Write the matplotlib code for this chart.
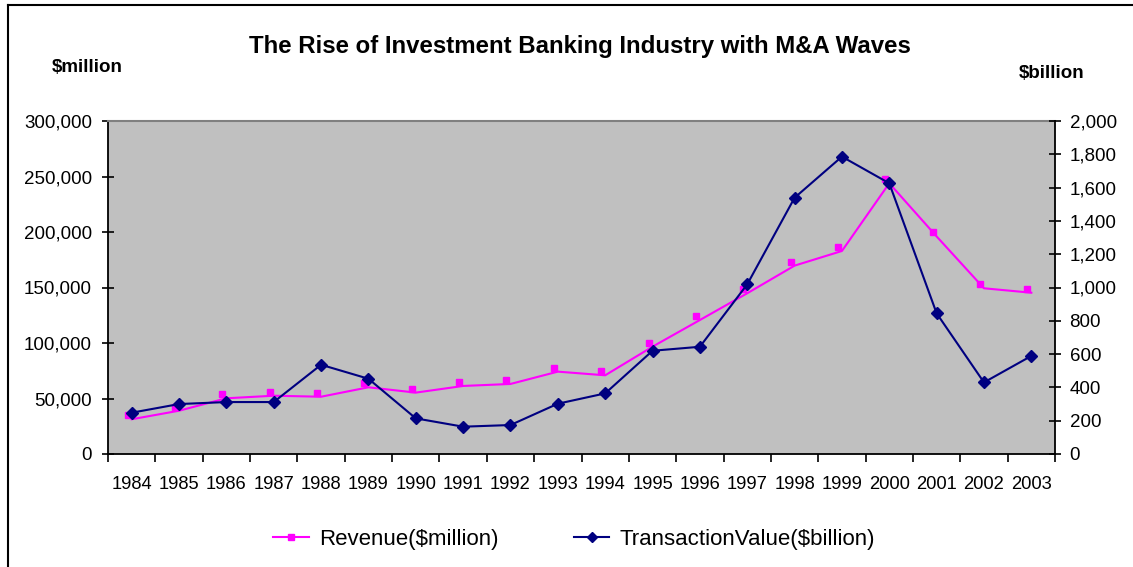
import numpy as np
import matplotlib
matplotlib.use('Agg')
import matplotlib.pyplot as plt
import matplotlib.transforms as mtransforms
from matplotlib import font_manager
from matplotlib.lines import Line2D
from matplotlib.ticker import FuncFormatter, FixedLocator

plt.rcParams['font.family'] = ['Liberation Sans', 'DejaVu Sans']

# data
years = ['1984', '1985', '1986', '1987', '1988', '1989', '1990', '1991', '1992', '1993',
         '1994', '1995', '1996', '1997', '1998', '1999', '2000', '2001', '2002', '2003']
revenue_musd = [31300, 39000, 50200, 52500, 51600, 60100, 55300, 61300, 63100, 74200,
                70900, 96700, 120700, 144800, 169700, 182900, 243900, 196000, 149300, 145300]
transaction_busd = [248, 300, 312, 312, 536, 452, 214, 164, 174, 302,
                    364, 620, 644, 1019, 1539, 1786, 1626, 845, 430, 589]

NAVY = '#000080'
MAGENTA = '#FF00FF'

# the headings in the original are a condensed bold face
installed = {f.name for f in font_manager.fontManager.ttflist}
if 'Liberation Sans Narrow' in installed:
    head_family, title_size, unit_size = 'Liberation Sans Narrow', 21, 16
else:
    head_family, title_size, unit_size = 'Liberation Sans', 17.3, 13.5

fig = plt.figure(figsize=(11.33, 5.67), dpi=100)
ax = fig.add_axes([108 / 1133, 1 - 454 / 567, (1055 - 108) / 1133, (454 - 121) / 567])
ax2 = ax.twinx()

x = np.arange(len(years))

# revenue: line, with the square markers sitting slightly off the line like the original
ax.plot(x, revenue_musd, color=MAGENTA, lw=1.5, zorder=2)
shifted = mtransforms.offset_copy(ax.transData, fig=fig, x=-4, y=4, units='dots')
ax.plot(x, revenue_musd, ls='none', marker='s', ms=4.5, color=MAGENTA,
        transform=shifted, zorder=3)

ax2.plot(x, transaction_busd, color=NAVY, lw=1.5, marker='D', ms=6.5, zorder=3)

ax.set_facecolor('#C0C0C0')
ax2.patch.set_visible(False)

ax.set_xlim(-0.5, len(years) - 0.5)
ax.set_ylim(0, 300000)
ax2.set_ylim(0, 2000)

ax.set_yticks(np.arange(0, 300001, 50000))
ax2.set_yticks(np.arange(0, 2001, 200))
ax.yaxis.set_major_formatter(FuncFormatter(lambda v, p: f'{v:,.0f}'))
ax2.yaxis.set_major_formatter(FuncFormatter(lambda v, p: f'{v:,.0f}'))

# x ticks sit between categories, labels on the categories
ax.xaxis.set_major_locator(FixedLocator(np.arange(-0.5, len(years), 1.0)))
ax.xaxis.set_major_formatter(FuncFormatter(lambda v, p: ''))
ax.set_xticks(x, minor=True)
ax.set_xticklabels(years, minor=True)
ax.tick_params(axis='x', which='major', direction='out', length=6, width=1.2, color='black')
ax.tick_params(axis='x', which='minor', length=0, pad=16, labelsize=13.2)
ax.tick_params(axis='y', direction='inout', length=9, width=1.2, pad=7, labelsize=13.5)
ax2.tick_params(axis='y', direction='inout', length=9, width=1.2, pad=6, labelsize=13.5)

for a in (ax, ax2):
    for side in ('left', 'right', 'top', 'bottom'):
        a.spines[side].set_visible(False)
ax.spines['left'].set_visible(True)
ax.spines['bottom'].set_visible(True)
ax.spines['top'].set_visible(True)
ax.spines['top'].set_color('#808080')
ax.spines['top'].set_linewidth(1.5)
ax2.spines['right'].set_visible(True)
for s in (ax.spines['left'], ax.spines['bottom'], ax2.spines['right']):
    s.set_color('black')
    s.set_linewidth(1.3)

fig.text(580 / 1133, 1 - 46 / 567, 'The Rise of Investment Banking Industry with M&A Waves',
         ha='center', va='center', fontsize=title_size, fontweight='bold', family=head_family)
fig.text(87 / 1133, 1 - 68 / 567, '$million', ha='center', va='center',
         fontsize=unit_size, fontweight='bold', family=head_family)
fig.text(1052 / 1133, 1 - 74 / 567, '$billion', ha='center', va='center',
         fontsize=unit_size, fontweight='bold', family=head_family)

handles = [
    Line2D([], [], color=MAGENTA, lw=1.5, marker='s', ms=4.5),
    Line2D([], [], color=NAVY, lw=1.5, marker='D', ms=5),
]
fig.legend(handles, ['Revenue($million)', 'TransactionValue($billion)'],
           loc='center', bbox_to_anchor=(574 / 1133, 1 - 539 / 567), ncol=2,
           frameon=False, fontsize=16, handlelength=1.6, handletextpad=0.45,
           columnspacing=3.4)

# chart area border (left and top edges visible in the original)
fig.add_artist(Line2D([8 / 1133, 8 / 1133], [0, 1 - 5 / 567], color='black', lw=1.5,
                      transform=fig.transFigure))
fig.add_artist(Line2D([8 / 1133, 1], [1 - 5 / 567, 1 - 5 / 567], color='black', lw=1.5,
                      transform=fig.transFigure))

fig.savefig('out.png', dpi=100)
